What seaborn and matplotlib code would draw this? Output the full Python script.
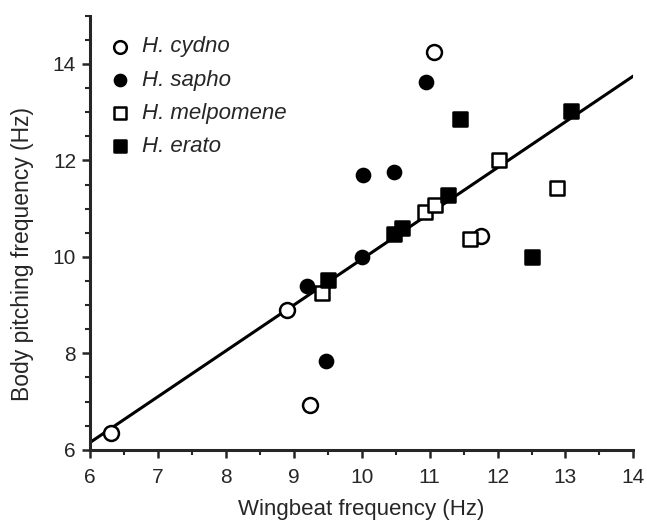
import numpy as np
import pandas as pd
import matplotlib
matplotlib.use('Agg')
import matplotlib.pyplot as plt
import seaborn as sns
from matplotlib.ticker import MultipleLocator

sns.set_style('ticks')
plt.rcParams['font.family'] = ['Liberation Sans', 'DejaVu Sans']

# Wingbeat vs body pitching frequency (Hz)
cydno_x = [6.31, 8.90, 9.24, 11.07, 11.75]
cydno_y = [6.35, 8.90, 6.92, 14.25, 10.44]
sapho_x = [9.20, 9.48, 10.00, 10.02, 10.47, 10.95]
sapho_y = [9.40, 7.85, 10.00, 11.70, 11.75, 13.62]
melp_x = [9.42, 10.93, 11.08, 11.60, 12.02, 12.87]
melp_y = [9.25, 10.93, 11.07, 10.38, 12.00, 11.42]
erato_x = [9.50, 10.48, 10.60, 11.27, 11.45, 12.50, 13.08]
erato_y = [9.52, 10.48, 10.60, 11.28, 12.85, 10.00, 13.02]

# regression line
fit_slope = 0.95
fit_intercept = 0.45

species = ['H. cydno', 'H. sapho', 'H. melpomene', 'H. erato']
xs = [cydno_x, sapho_x, melp_x, erato_x]
ys = [cydno_y, sapho_y, melp_y, erato_y]

df = pd.concat([pd.DataFrame({'wingbeat': x, 'pitch': y, 'species': s})
                for x, y, s in zip(xs, ys, species)], ignore_index=True)

styles = {
    'H. cydno': dict(marker='o', fc='white', s=115),
    'H. sapho': dict(marker='o', fc='black', s=90),
    'H. melpomene': dict(marker='s', fc='white', s=115),
    'H. erato': dict(marker='s', fc='black', s=105),
}

fig = plt.figure(figsize=(6.47, 5.23), dpi=100)
ax = fig.add_axes([0.139, 0.140, 0.840, 0.830])

line_x = np.array([6, 14])
sns.lineplot(x=line_x, y=fit_slope * line_x + fit_intercept, color='black',
             linewidth=2.2, ax=ax, zorder=2)

for sp in species:
    st = styles[sp]
    sub = df[df['species'] == sp]
    sns.scatterplot(data=sub, x='wingbeat', y='pitch', marker=st['marker'],
                    s=st['s'], color=st['fc'], edgecolor='black', linewidth=1.8,
                    label=sp, ax=ax, zorder=3)

ax.set_xlim(6, 14)
ax.set_ylim(6, 15)
ax.set_xticks(range(6, 15))
ax.set_yticks([6, 8, 10, 12, 14])
ax.xaxis.set_minor_locator(MultipleLocator(0.5))
ax.yaxis.set_minor_locator(MultipleLocator(0.5))
ax.tick_params(which='major', length=6, width=1.8, labelsize=15, direction='out')
ax.tick_params(axis='x', which='major', pad=7)
ax.tick_params(axis='y', which='major', pad=4)
ax.tick_params(which='minor', length=3.5, width=1.5, direction='out')
for side in ['left', 'bottom']:
    ax.spines[side].set_linewidth(2.2)
sns.despine(ax=ax)

ax.set_xlabel('Wingbeat frequency (Hz)', fontsize=16, labelpad=9)
ax.set_ylabel('Body pitching frequency (Hz)', fontsize=16.5)
ax.yaxis.set_label_coords(-0.103, 0.45)

leg = ax.legend(loc='upper left', bbox_to_anchor=(-0.015, 0.988), frameon=False,
                prop={'style': 'italic', 'size': 16}, handletextpad=0.0,
                labelspacing=0.55, borderaxespad=0.3, markerscale=0.85)

fig.savefig('out.png', dpi=100)
